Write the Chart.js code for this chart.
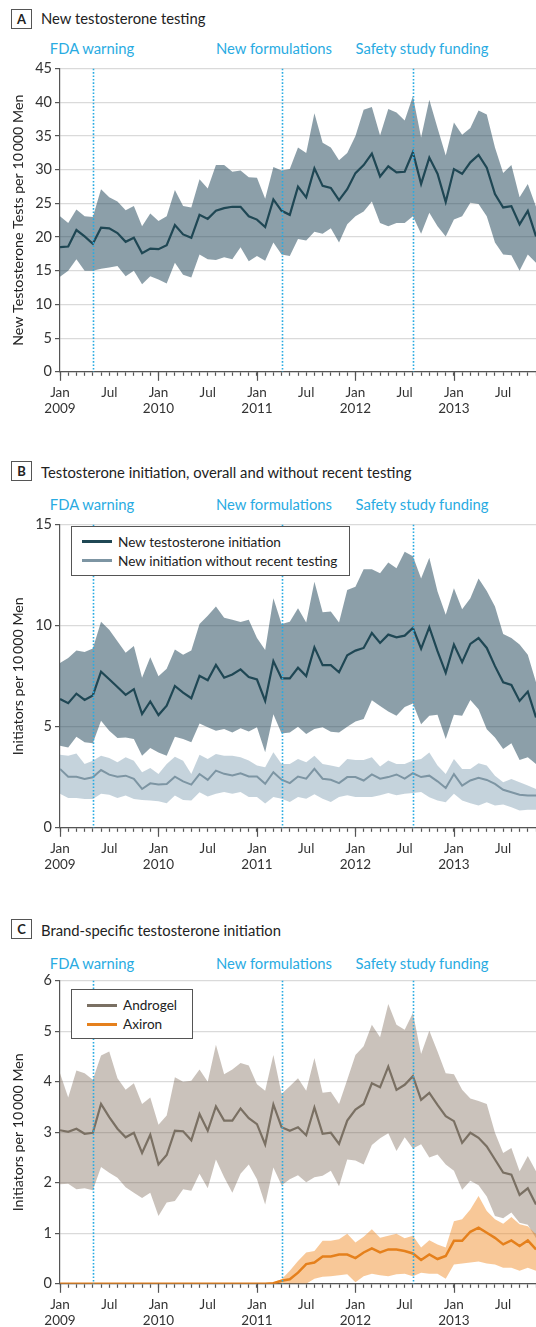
<!DOCTYPE html>
<html>
<head>
<meta charset="utf-8">
<script src="https://cdn.jsdelivr.net/npm/chart.js@4.4.1/dist/chart.umd.min.js"></script>
<style>
body { margin:0; width:536px; height:1327px; position:relative; background:#fff; font-family:Lato, sans-serif; color:#222; overflow:hidden; }
.badge { position:absolute; left:11px; width:19px; height:18px; border:1px solid #555; font-weight:bold; font-size:13px; text-align:center; line-height:18px; }
.title { position:absolute; left:41px; font-size:14.8px; line-height:20px; white-space:nowrap; }
.event { position:absolute; font-size:14.8px; line-height:20px; color:#29abe2; white-space:nowrap; transform:translateX(-50%); }
canvas { position:absolute; left:0; }
.legend { position:absolute; left:71px; height:48px; border:1px solid #555; background:#fff; }
.legend .txt { position:absolute; font-size:13.6px; line-height:18px; white-space:nowrap; color:#222; }
.legend .sw { position:absolute; height:3px; }
</style>
</head>
<body>

<!-- A -->
<div class="badge" style="top:9px">A</div>
<div class="title" style="top:8px">New testosterone testing</div>
<div class="event" style="top:38px;left:92px">FDA warning</div>
<div class="event" style="top:38px;left:274px">New formulations</div>
<div class="event" style="top:38px;left:422px">Safety study funding</div>
<canvas id="chartA" width="536" height="360" style="top:57px"></canvas>

<!-- B -->
<div class="badge" style="top:461px">B</div>
<div class="title" style="top:462px">Testosterone initiation, overall and without recent testing</div>
<div class="event" style="top:494px;left:92px">FDA warning</div>
<div class="event" style="top:494px;left:274px">New formulations</div>
<div class="event" style="top:494px;left:422px">Safety study funding</div>
<canvas id="chartB" width="536" height="360" style="top:512.7px"></canvas>
<div class="legend" id="legendB" style="top:526px;width:277px"></div>

<!-- C -->
<div class="badge" style="top:919px">C</div>
<div class="title" style="top:919.5px">Brand-specific testosterone initiation</div>
<div class="event" style="top:952.7px;left:92px">FDA warning</div>
<div class="event" style="top:952.7px;left:274px">New formulations</div>
<div class="event" style="top:952.7px;left:422px">Safety study funding</div>
<canvas id="chartC" width="536" height="360" style="top:969.3px"></canvas>
<div class="legend" id="legendC" style="top:989px;width:120px"></div>

<script>
// 월 인덱스 0 = 2009년 1월, 58 = 2013년 11월
var startYear = 2009;
var lastMonth = 58;
var eventMonths = [4, 27, 43];   // FDA warning, New formulations, Safety study funding

// A: new testosterone testing (per 10 000 men)
var testMean = [18.5,18.6,21.05,20.1,19.0,21.4,21.3,20.6,19.3,19.9,17.6,18.3,18.2,18.8,21.8,20.4,19.9,23.3,22.7,23.9,
  24.3,24.5,24.5,23.1,22.6,21.5,25.6,23.9,23.3,27.5,25.9,30.2,27.6,27.3,25.5,27.1,29.5,30.7,32.4,29.0,
  30.5,29.6,29.7,32.6,27.9,31.8,29.4,25.2,30.1,29.4,31.1,32.2,30.3,26.4,24.4,24.6,21.9,23.9,20.1];
var testUpper = [23.1,22.1,24.1,23.1,23.0,27.1,25.9,25.3,24.0,24.6,21.6,23.5,22.4,23.1,27.0,24.6,24.4,28.6,27.2,30.7,
  30.7,29.7,29.9,28.9,28.8,25.7,30.4,29.9,30.1,33.3,32.5,38.4,34.0,33.3,31.4,32.5,35.0,38.9,39.3,35.1,
  39.0,38.5,37.3,40.9,34.8,40.4,36.2,32.1,37.0,35.2,36.2,38.8,38.2,33.3,29.5,30.7,25.9,27.9,24.5];
var testLower = [14.1,15.0,16.7,15.0,15.0,15.3,15.5,15.7,14.2,15.0,13.0,14.2,13.7,13.1,16.2,14.4,14.0,17.4,16.7,16.6,
  17.0,16.7,18.5,16.4,17.2,16.5,19.2,17.4,17.2,19.7,19.5,20.8,20.5,21.3,19.2,21.9,23.1,23.8,25.3,22.1,
  21.6,22.1,22.1,23.1,20.5,23.6,21.6,20.1,22.6,23.1,25.1,24.9,23.1,19.2,17.4,17.3,15.0,17.4,16.2];

// B: initiation overall
var initMean = [6.37,6.17,6.64,6.33,6.55,7.73,7.35,6.97,6.58,6.86,5.63,6.25,5.58,6.04,7.02,6.69,6.41,7.52,7.3,8.06,
  7.43,7.59,7.84,7.46,7.34,6.28,8.25,7.39,7.39,7.92,7.51,8.93,8.05,8.05,7.7,8.54,8.77,8.9,9.64,9.15,
  9.56,9.43,9.51,9.89,8.86,9.93,8.74,7.67,9.07,8.2,9.1,9.39,8.9,8.0,7.2,7.07,6.28,6.74,5.46];
var initUpper = [8.16,8.4,8.77,8.7,8.87,10.2,9.8,9.23,8.66,9.0,7.43,8.44,7.5,7.87,8.82,8.57,8.77,10.08,10.5,10.95,
  10.4,10.3,10.18,10.3,9.39,8.8,11.36,10.08,10.2,10.87,10.16,12.18,10.67,10.7,10.16,11.77,11.93,12.79,12.79,12.6,
  13.13,12.84,13.66,13.44,12.34,13.36,11.69,10.54,11.85,10.82,11.36,12.34,11.72,10.95,9.59,9.39,9.07,8.57,7.2];
var initLower = [4.06,3.98,4.5,4.23,4.18,5.3,4.8,4.44,4.47,4.39,3.57,3.95,3.73,3.57,4.5,4.39,4.23,5.16,4.97,4.8,
  4.89,4.72,4.93,4.77,4.97,3.74,5.62,4.67,4.72,5.0,4.64,4.89,4.97,4.75,4.72,5.0,5.26,5.38,6.31,6.03,
  5.75,5.54,5.98,6.15,5.13,5.54,5.59,4.39,5.59,5.54,6.32,5.87,4.88,4.47,3.9,4.18,3.36,3.49,3.16];

// B: initiation without recent testing
var noTestMean = [2.91,2.53,2.53,2.42,2.5,2.86,2.63,2.53,2.58,2.42,1.92,2.2,2.14,2.17,2.53,2.3,2.14,2.66,2.37,2.83,
  2.67,2.59,2.7,2.54,2.54,2.18,2.75,2.38,2.21,2.54,2.43,2.92,2.43,2.38,2.21,2.51,2.51,2.34,2.64,2.43,
  2.51,2.64,2.43,2.7,2.51,2.58,2.3,1.97,2.66,2.09,2.34,2.47,2.37,2.17,1.88,1.76,1.64,1.6,1.6];
var noTestUpper = [3.62,3.57,3.68,3.16,3.32,3.57,3.45,3.24,3.49,3.32,2.75,2.96,2.66,3.16,3.52,3.32,2.66,3.62,3.4,3.65,
  3.57,3.57,3.49,3.33,3.08,3.0,3.74,3.16,3.16,3.41,3.25,3.57,3.16,3.08,3.0,3.41,3.36,3.36,3.49,3.03,
  3.33,3.16,3.16,3.33,3.4,3.73,3.08,2.66,3.4,2.91,2.91,3.19,3.08,2.58,2.25,2.42,2.25,2.09,1.92];
var noTestLower = [1.68,1.48,1.48,1.43,1.43,1.68,1.64,1.48,1.6,1.43,1.38,1.35,1.32,1.22,1.6,1.38,1.35,1.76,1.55,1.68,
  1.77,1.69,1.77,1.52,1.52,1.2,1.52,1.44,1.28,1.52,1.44,1.66,1.44,1.28,1.52,1.61,1.52,1.52,1.52,1.61,
  1.72,1.61,1.69,1.72,1.77,1.51,1.35,1.27,1.68,1.35,1.22,1.1,1.27,1.1,1.15,1.02,0.86,0.89,0.89];

// C: Androgel
var androMean = [3.04,3.01,3.07,2.97,2.99,3.56,3.3,3.07,2.9,2.99,2.59,2.95,2.36,2.55,3.03,3.02,2.84,3.36,3.03,3.51,
  3.23,3.23,3.47,3.28,3.16,2.76,3.55,3.1,3.03,3.1,2.94,3.49,2.97,2.99,2.77,3.23,3.45,3.56,3.97,3.89,
  4.3,3.84,3.94,4.11,3.64,3.78,3.54,3.32,3.22,2.79,2.99,2.89,2.72,2.46,2.2,2.16,1.76,1.89,1.57];
var androUpper = [4.17,3.69,4.22,4.17,4.04,4.52,4.6,4.07,3.84,3.97,3.56,3.69,3.15,3.33,4.09,4.0,4.02,4.24,4.0,4.73,
  4.15,4.24,4.37,4.32,3.95,3.82,4.53,3.76,3.91,4.07,3.82,4.47,3.78,3.8,3.56,4.04,4.53,4.7,5.13,4.88,
  5.54,5.13,5.03,5.36,4.55,5.01,4.6,4.17,4.15,3.84,3.67,3.62,3.56,2.99,2.59,2.69,2.23,2.53,2.23];
var androLower = [1.97,1.98,1.87,1.89,1.85,2.31,2.2,2.1,1.91,1.8,1.7,1.8,1.34,1.61,1.64,1.87,1.84,2.18,1.89,2.46,
  2.11,1.8,2.18,2.36,2.07,1.57,2.3,1.95,2.07,2.15,2.01,2.11,2.14,2.24,1.93,2.46,2.44,2.36,2.75,2.88,
  2.98,2.63,2.9,2.68,2.76,2.5,2.56,2.36,2.24,1.86,2.04,1.95,1.73,1.34,1.3,1.41,1.21,1.17,0.9];

// C: Axiron (출시 전에는 0)
var axiMean = [0,0,0,0,0,0,0,0,0,0,0,0,0,0,0,0,0,0,0,0,
  0,0,0,0,0,0,0.01,0.06,0.09,0.22,0.39,0.42,0.54,0.54,0.58,0.58,0.51,0.62,0.7,0.62,
  0.68,0.68,0.65,0.6,0.47,0.58,0.49,0.55,0.85,0.85,1.03,1.11,1.01,0.91,0.78,0.86,0.75,0.86,0.68];
var axiUpper = [0,0,0,0,0,0,0,0,0,0,0,0,0,0,0,0,0,0,0,0,
  0,0,0,0,0,0,0.03,0.09,0.26,0.45,0.62,0.65,0.85,0.85,0.88,0.99,0.82,0.93,1.08,0.91,
  0.95,0.99,0.9,0.95,0.72,0.86,0.78,0.72,1.24,1.28,1.47,1.74,1.44,1.28,1.19,1.32,1.18,1.14,0.98];
var axiLower = [0,0,0,0,0,0,0,0,0,0,0,0,0,0,0,0,0,0,0,0,
  0,0,0,0,0,0,0,0,0,0,0,0.1,0.14,0.15,0.17,0.19,0.03,0.15,0.2,0.17,
  0.15,0.19,0.2,0.15,0.22,0.2,0.2,0.1,0.38,0.4,0.42,0.44,0.4,0.38,0.32,0.32,0.26,0.32,0.26];

var eventColor = '#29abe2';
var axisColor = '#555';
var gridColor = '#dadada';

// 배열 -> {x, y} 점 목록
function toPoints(values) {
    return values.map(function(v, i) { return {x: i, y: v}; });
}

// 띠(신뢰구간) 두 개: 위쪽은 아래쪽까지 채움
function band(upper, lower, fillColor, order) {
    return [
        {data: toPoints(upper), borderWidth: 0, pointRadius: 0, fill: '+1', backgroundColor: fillColor, order: order},
        {data: toPoints(lower), borderWidth: 0, pointRadius: 0, fill: false, order: order}
    ];
}

function line(values, color, width, order) {
    return {data: toPoints(values), borderColor: color, borderWidth: width, pointRadius: 0, fill: false, tension: 0, order: order};
}

// 이벤트 세로 점선 + 1월 긴 눈금
var markerPlugin = {
    id: 'markers',
    afterDatasetsDraw: function(chart) {
        var ctx = chart.ctx, area = chart.chartArea, xs = chart.scales.x;
        ctx.save();
        ctx.strokeStyle = eventColor;
        ctx.lineWidth = 1.6;
        ctx.setLineDash([1.6, 1.8]);
        eventMonths.forEach(function(m) {
            var x = Math.round(xs.getPixelForValue(m)) + 0.5;
            ctx.beginPath();
            ctx.moveTo(x, area.top);
            ctx.lineTo(x, area.bottom);
            ctx.stroke();
        });
        ctx.restore();
    },
    afterDraw: function(chart) {
        var ctx = chart.ctx, area = chart.chartArea, xs = chart.scales.x;
        ctx.save();
        ctx.strokeStyle = axisColor;
        ctx.lineWidth = 1.2;
        for (var m = 0; m <= lastMonth; m += 12) {
            var x = Math.round(xs.getPixelForValue(m)) + 0.5;
            ctx.beginPath();
            ctx.moveTo(x, area.bottom);
            ctx.lineTo(x, area.bottom + 9);
            ctx.stroke();
        }
        ctx.restore();
    }
};

function makeChart(id, datasets, yMax, yStep, yTitle) {
    var ctx = document.getElementById(id).getContext('2d');
    return new Chart(ctx, {
        type: 'line',
        data: {datasets: datasets},
        options: {
            responsive: false,
            animation: false,
            layout: {padding: {top: 10, right: 0, left: 0, bottom: 0}},
            plugins: {legend: {display: false}, tooltip: {enabled: false}},
            scales: {
                x: {
                    type: 'linear', min: 0, max: lastMonth,
                    afterFit: function(s) { s.height = 45.2; s.paddingRight = 0; s.paddingLeft = 0; },
                    grid: {drawOnChartArea: false, tickLength: 4, color: axisColor, tickWidth: 1.2},
                    border: {color: axisColor, width: 1.2},
                    ticks: {
                        stepSize: 1, autoSkip: false, maxRotation: 0, padding: 8.6,
                        color: '#333', font: {family: 'Lato', size: 13.5},
                        callback: function(v) {
                            if (v % 12 === 0) return ['Jan', String(startYear + v / 12)];
                            if (v % 12 === 6) return 'Jul';
                            return '';
                        }
                    }
                },
                y: {
                    min: 0, max: yMax,
                    afterFit: function(s) { s.width = 60; },
                    grid: {color: gridColor, lineWidth: 1.2, tickLength: 5, tickColor: axisColor},
                    border: {color: axisColor, width: 1.2},
                    ticks: {stepSize: yStep, padding: 3, color: '#333', font: {family: 'Lato', size: 14.5}},
                    title: {display: true, text: yTitle, color: '#222', font: {family: 'Lato', size: 14.2}, padding: {top: 10, bottom: 0}}
                }
            }
        },
        plugins: [markerPlugin]
    });
}

var darkBand = 'rgba(26,64,84,0.5)';
var darkLine = '#1f4754';
var lightBand = 'rgba(90,130,155,0.35)';
var lightLine = '#7d95a3';
var brownBand = 'rgba(110,90,70,0.37)';
var brownLine = '#7a7063';
var orangeBand = 'rgba(240,140,40,0.48)';
var orangeLine = '#e5801c';

makeChart('chartA',
    band(testUpper, testLower, darkBand, 3).concat([line(testMean, darkLine, 2.2, 0)]),
    45, 5, 'New Testosterone Tests per 10\u2009000 Men');

makeChart('chartB',
    band(initUpper, initLower, darkBand, 4)
        .concat(band(noTestUpper, noTestLower, lightBand, 3))
        .concat([line(noTestMean, lightLine, 2, 1), line(initMean, darkLine, 2.2, 0)]),
    15, 5, 'Initiators per 10\u2009000 Men');

makeChart('chartC',
    band(androUpper, androLower, brownBand, 4)
        .concat(band(axiUpper, axiLower, orangeBand, 3))
        .concat([line(androMean, brownLine, 2.2, 1), line(axiMean, orangeLine, 2.5, 0)]),
    6, 1, 'Initiators per 10\u2009000 Men');

// 범례 (HTML 상자)
function buildLegend(id, names, colors, swLeft, txtLeft, rows) {
    var box = document.getElementById(id);
    names.forEach(function(name, i) {
        var sw = document.createElement('span');
        sw.className = 'sw';
        sw.style.left = swLeft + 'px';
        sw.style.width = '30px';
        sw.style.top = (rows[i] - 1.5) + 'px';
        sw.style.background = colors[i];
        box.appendChild(sw);
        var t = document.createElement('div');
        t.className = 'txt';
        t.style.left = txtLeft + 'px';
        t.style.top = (rows[i] - 9) + 'px';
        t.textContent = name;
        box.appendChild(t);
    });
}
buildLegend('legendB', ['New testosterone initiation', 'New initiation without recent testing'], [darkLine, lightLine], 10, 46, [14.7, 33.7]);
buildLegend('legendC', ['Androgel', 'Axiron'], [brownLine, orangeLine], 15, 51, [15, 34]);
</script>
</body>
</html>
